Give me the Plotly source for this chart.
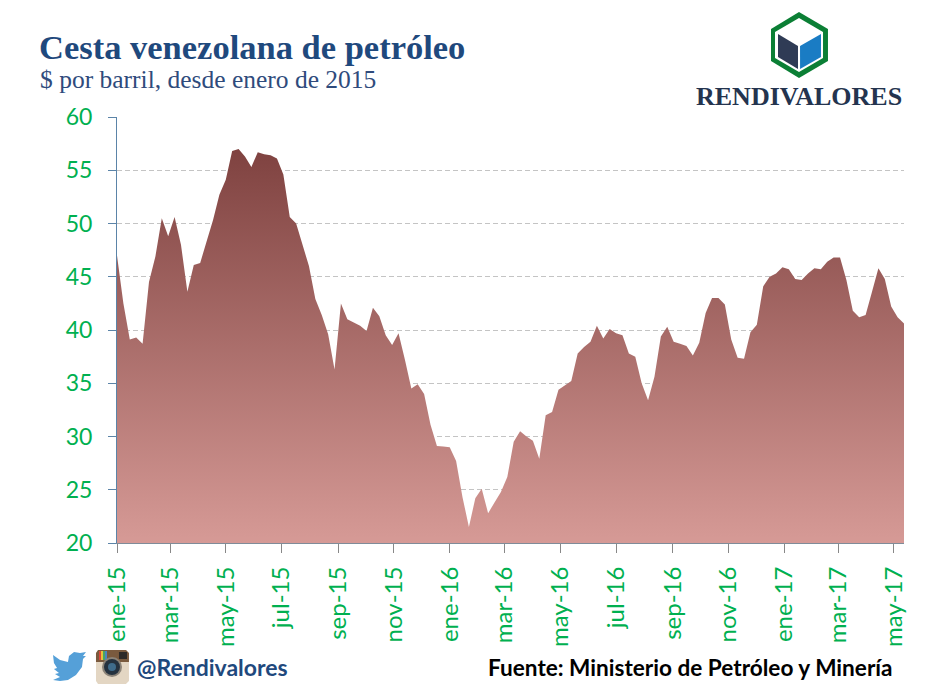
import pandas as pd
import plotly.express as px

# Weekly price of the basket ($ per barrel)
prices = [
    47.0, 42.5, 39.1, 39.3, 38.7, 44.5, 46.9, 50.5, 48.8, 50.6,
    48.0, 43.6, 46.1, 46.3, 48.3, 50.3, 52.7, 54.1, 56.8, 57.0,
    56.3, 55.3, 56.7, 56.5, 56.4, 56.1, 54.6, 50.6, 50.0, 48.0,
    46.0, 42.9, 41.4, 39.6, 36.3, 42.5, 41.0, 40.7, 40.4, 39.9,
    42.1, 41.3, 39.5, 38.6, 39.7, 37.2, 34.5, 34.9, 34.0, 31.1,
    29.1, 29.05, 29.0, 27.7, 24.3, 21.5, 24.2, 25.1, 22.8, 23.8,
    24.8, 26.2, 29.5, 30.5, 30.0, 29.6, 27.9, 32.0, 32.3, 34.4,
    34.8, 35.2, 37.8, 38.4, 38.9, 40.4, 39.2, 40.1, 39.7, 39.5,
    37.8, 37.5, 35.0, 33.4, 35.6, 39.4, 40.3, 38.9, 38.7, 38.5,
    37.6, 38.8, 41.6, 43.0, 43.0, 42.4, 39.1, 37.4, 37.3, 39.8,
    40.5, 44.1, 45.0, 45.3, 45.9, 45.7, 44.8, 44.7, 45.3, 45.8,
    45.7, 46.4, 46.8, 46.8, 44.7, 41.8, 41.2, 41.4, 43.6, 45.8,
    44.8, 42.2, 41.2, 40.6,
]
first_week = '2015-01-02'

tick_dates = [
    '2015-01-02', '2015-03-01', '2015-05-01', '2015-07-01', '2015-09-01',
    '2015-11-01', '2016-01-01', '2016-03-01', '2016-05-01', '2016-07-01',
    '2016-09-01', '2016-11-01', '2017-01-01', '2017-03-01', '2017-05-01',
]
tick_labels = [
    'ene-15', 'mar-15', 'may-15', 'jul-15', 'sep-15',
    'nov-15', 'ene-16', 'mar-16', 'may-16', 'jul-16',
    'sep-16', 'nov-16', 'ene-17', 'mar-17', 'may-17',
]

title = 'Cesta venezolana de petróleo'
subtitle = '$ por barril, desde enero de 2015'

weeks = pd.date_range(first_week, periods=len(prices), freq='7D')

# area() -> the basket as a filled curve
fig = px.area(x=weeks, y=prices)

# fillgradient -> pale at the axis, dark at the top of the curve
fig.update_traces(
    line_width=0,
    fillgradient=dict(
        type='vertical',
        colorscale=[[0, '#d69a96'], [1, '#7f4240']],
        start=20,
        stop=57,
    ),
)

fig.update_layout(
    width=941,
    height=690,
    margin=dict(l=117, r=37, t=117, b=147),
    plot_bgcolor='white',
    paper_bgcolor='white',
    showlegend=False,
    hovermode=False,
)

fig.update_xaxes(
    title_text='',
    range=[weeks[0], weeks[-1]],
    tickvals=tick_dates,
    ticktext=tick_labels,
    tickangle=-90,
    tickfont=dict(family='Lato', size=24, color='#00b050'),
    ticks='outside',
    ticklen=9,
    tickcolor='#888888',
    ticklabelstandoff=4,
    showline=True,
    linecolor='#7f8c99',
    showgrid=False,
    zeroline=False,
)

fig.update_yaxes(
    title_text='',
    range=[20, 60],
    dtick=5,
    tickfont=dict(family='Lato', size=23, color='#00b050'),
    ticks='outside',
    ticklen=8,
    tickcolor='#5b84a8',
    ticklabelstandoff=11,
    showline=True,
    linecolor='#5b84a8',
    gridcolor='#c4c4c4',
    griddash='5px,3px',
    zeroline=False,
)

# picture pixels -> paper coordinates, for everything outside the plot
to_x = lambda p: (p - 117) / 787
to_y = lambda p: (543 - p) / 426

# Texts around the chart: (text, left pixel, middle pixel, family, size, colour, bold)
texts = [
    (title, 39, 47, 'Liberation Serif', 34.5, '#1f497d', True),
    (subtitle, 40, 80, 'Liberation Serif', 25.5, '#2f4b7c', False),
    ('RENDIVALORES', 696, 96, 'Liberation Serif', 26, '#24344f', True),
    ('@Rendivalores', 137, 667, 'Lato', 23, '#1f497d', True),
    ('Fuente: Ministerio de Petróleo y Minería', 488, 667, 'Lato', 22.6, '#000000', True),
]
for text, left, middle, family, size, colour, bold in texts:
    fig.add_annotation(
        text='<b>' + text + '</b>' if bold else text,
        x=to_x(left), y=to_y(middle),
        xref='paper', yref='paper',
        xanchor='left', yanchor='middle',
        xshift=-2,
        showarrow=False,
        font=dict(family=family, size=size, color=colour),
    )

# Logo and icons as polygons: (pixel corners, colour)
polygons = [
    # hexagon of the logo
    ([(799, 12), (828, 29), (828, 61), (799, 78), (771, 61), (771, 29)], '#0b7f35'),
    ([(799, 18), (823, 32), (823, 58), (799, 72), (775, 58), (775, 32)], '#ffffff'),
    ([(778, 34), (798, 46), (798, 69), (778, 57)], '#2f3b55'),
    ([(800, 46), (821, 34), (821, 57), (800, 69)], '#1a7cc4'),
    # twitter bird
    ([(53, 655), (60, 660), (68, 662), (69, 656), (74, 652), (80, 653), (86, 652),
      (83, 656), (86, 656), (83, 659), (82, 667), (76, 675), (68, 680), (60, 681),
      (53, 680), (60, 677), (55, 674), (59, 673), (54, 669), (57, 668), (54, 663)],
     '#55a0d8'),
    # instagram camera
    ([(98, 650), (126, 650), (129, 653), (129, 681), (126, 684), (98, 684), (96, 681), (96, 653)],
     '#e3d6c3'),
    ([(98, 650), (126, 650), (129, 653), (129, 662), (96, 662), (96, 653)], '#7a5a3e'),
    ([(99, 651), (101, 651), (101, 660), (99, 660)], '#d8483c'),
    ([(101, 651), (103, 651), (103, 660), (101, 660)], '#e8c33c'),
    ([(103, 651), (105, 651), (105, 660), (103, 660)], '#4aa564'),
    ([(105, 651), (107, 651), (107, 660), (105, 660)], '#4a86c4'),
    ([(119, 652), (127, 652), (127, 659), (119, 659)], '#2d2a28'),
]
for corners, colour in polygons:
    path = 'M ' + ' L '.join(f'{to_x(a):.4f},{to_y(b):.4f}' for a, b in corners) + ' Z'
    fig.add_shape(type='path', path=path, xref='paper', yref='paper',
                  fillcolor=colour, line_width=0)

# lens of the camera: (centre x, centre y, radius, colour)
lens = [(112, 667, 10, '#8b8378'), (112, 667, 8, '#25323f'), (112, 667, 4, '#3f6c8c')]
for cx, cy, r, colour in lens:
    fig.add_shape(type='circle', xref='paper', yref='paper',
                  x0=to_x(cx - r), x1=to_x(cx + r), y0=to_y(cy + r), y1=to_y(cy - r),
                  fillcolor=colour, line_width=0)

# render resulting chart as an html file
# post_script -> the page's own margin would push the figure 8 px off
fig.write_html(
    'out.html',
    config={'displayModeBar': False},
    post_script="document.body.style.margin = '0';",
)
